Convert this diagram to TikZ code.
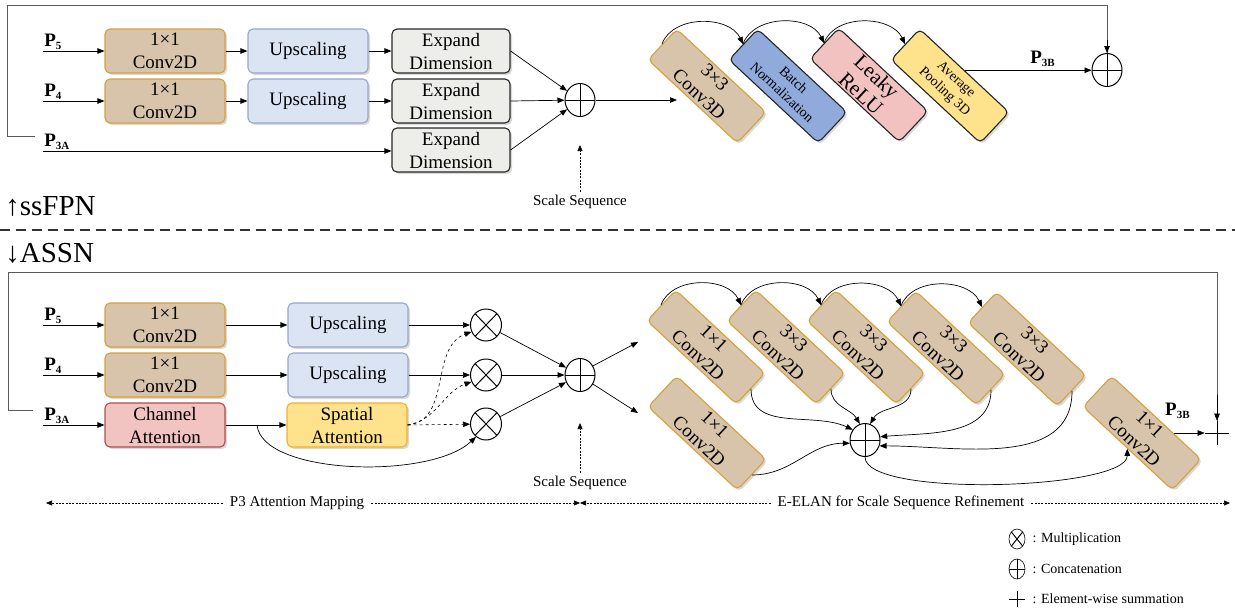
\documentclass[tikz,border=0pt]{standalone}
\usepackage{fontspec}
\setmainfont{Liberation Serif}
\usetikzlibrary{arrows.meta,shadows,calc,backgrounds,shapes.geometric}
\definecolor{convf}{RGB}{216,196,170}
\definecolor{convb}{RGB}{214,160,60}
\definecolor{upf}{RGB}{219,228,243}
\definecolor{upb}{RGB}{150,168,200}
\definecolor{expf}{RGB}{237,237,233}
\definecolor{bnf}{RGB}{143,170,219}
\definecolor{lrf}{RGB}{242,194,192}
\definecolor{apf}{RGB}{255,226,140}
\definecolor{caf}{RGB}{241,196,193}
\definecolor{cab}{RGB}{170,80,80}
\definecolor{saf}{RGB}{255,227,140}
\definecolor{sab}{RGB}{240,176,50}
\definecolor{framec}{RGB}{90,90,90}
\newcommand{\plab}[1]{\textbf{P}\raisebox{-0.35ex}{\fontsize{11}{11}\selectfont\textbf{#1}}}
\begin{document}
\begin{tikzpicture}[x=1pt,y=1pt,line width=0.7pt,
  >={Triangle[length=7pt,width=5.5pt]},
  blk/.style={rounded corners=5pt,line width=1.1pt,align=center,minimum width=120pt,minimum height=44pt,inner sep=1pt,font=\rmfamily\fontsize{19}{23}\selectfont,drop shadow={shadow xshift=2pt,shadow yshift=-2pt,opacity=0.3}},
  conv/.style={blk,draw=convb,fill=convf},
  ups/.style={blk,draw=upb,fill=upf},
  expd/.style={blk,draw=black!85,fill=expf,minimum width=118pt},
  rotbox/.style={rotate=-43,minimum width=122pt,minimum height=42pt,inner sep=0pt},
  bnbox/.style={blk,rotbox,draw=black!85,fill=bnf,font=\rmfamily\fontsize{14}{17}\selectfont},
  lrbox/.style={blk,rotbox,draw=black!85,fill=lrf,font=\rmfamily\fontsize{21}{23}\selectfont},
  apbox/.style={blk,rotbox,draw=black!85,fill=apf,font=\rmfamily\fontsize{14}{17}\selectfont},
  cabox/.style={blk,draw=cab,fill=caf},
  sabox/.style={blk,draw=sab,fill=saf},
  catn/.style={ellipse,draw,line width=1pt,minimum width=30pt,minimum height=33pt,inner sep=0pt,
    path picture={\draw[line width=1pt] (path picture bounding box.north) -- (path picture bounding box.south)
      (path picture bounding box.west) -- (path picture bounding box.east);}},
  muln/.style={ellipse,draw,line width=1pt,minimum width=31pt,minimum height=32pt,inner sep=0pt,
    path picture={\draw[line width=1pt]
      ($(path picture bounding box.center)!0.7071!(path picture bounding box.north east)$) --
      ($(path picture bounding box.center)!0.7071!(path picture bounding box.south west)$)
      ($(path picture bounding box.center)!0.7071!(path picture bounding box.north west)$) --
      ($(path picture bounding box.center)!0.7071!(path picture bounding box.south east)$);}},
  plusn/.style={minimum size=24pt,inner sep=0pt,
    path picture={\draw[line width=1pt] (path picture bounding box.north) -- (path picture bounding box.south)
      (path picture bounding box.west) -- (path picture bounding box.east);}},
  plab/.style={anchor=base west,font=\rmfamily\fontsize{19}{19}\selectfont,inner sep=0pt},
  frm/.style={draw=framec,line width=0.9pt},
  dsh/.style={dash pattern=on 2pt off 1.3pt,line width=0.6pt},
  smalltip/.style={-{Triangle[length=6pt,width=5pt]}},
  note/.style={font=\rmfamily\fontsize{15}{16}\selectfont},
  crv/.style={->,line width=0.7pt}
]
\useasboundingbox (0,0) rectangle (1235,-611);

% ================= ssFPN =================
\node[conv] (fc5) at (165,-51) {1×1\\Conv2D};
\node[ups]  (fu5) at (308,-51) {Upscaling};
\node[expd] (fe5) at (451,-51) {Expand\\Dimension};
\node[conv] (fc4) at (165,-101) {1×1\\Conv2D};
\node[ups]  (fu4) at (308,-101) {Upscaling};
\node[expd] (fe4) at (451,-101) {Expand\\Dimension};
\node[expd] (fe3) at (451,-150) {Expand\\Dimension};

\node[plab] (fl5) at (44,-46) {\plab{5}};
\node[plab] (fl4) at (44,-96) {\plab{4}};
\node[plab] (fl3) at (44,-146) {\plab{3A}};
\coordinate (fi5) at (43,-51);
\coordinate (fi4) at (43,-101);
\coordinate (fi3) at (43,-151);
\draw[->] (fi5) -- (fc5);
\draw[->] (fi4) -- (fc4);
\draw[->] (fi3) -- (fi3 -| fe3.west);
\draw[->] (fc5) -- (fu5);
\draw[->] (fc4) -- (fu4);
\draw[->] (fu5) -- (fe5);
\draw[->] (fu4) -- (fe4);

\node[catn] (catA) at (580,-100) {};
\draw[->] (fe5.east) -- (catA);
\draw[->] (fe4.east) -- (catA);
\draw[->] (fe3.east) -- (catA);

\node[note] (ssA) at (580,-202) {Scale Sequence};
\coordinate (ssAtip) at (580,-145);
\draw[dsh,smalltip] (ssA.north) -- (ssAtip);

\node[conv,rotbox] (c3d) at (707,-86) {3×3\\Conv3D};
\node[bnbox] (bn) at (788,-86) {Batch\\Normalization};
\node[lrbox] (lr) at (869,-85) {Leaky\\ReLU};
\node[apbox] (ap) at (950,-86) {Average\\Pooling 3D};
\coordinate (c3din) at (677,-100);
\draw[->] (catA.east) -- (c3din);
\draw[crv] (c3d.west) to[out=70,in=115] (bn.west);
\draw[crv] (bn.west) to[out=70,in=115] (lr.west);
\draw[crv] (lr.west) to[out=70,in=115] (ap.west);

\node[catn] (catB) at (1107,-70) {};
\draw[->] (ap.north) -- (ap.north -| catB.west);
\node[plab] (flb) at (1030,-63) {\plab{3B}};
\coordinate (frA) at (35,-136);
\draw[frm] (frA) -- (7,-136) -- (7,-5) -| (catB.north);
\draw[->] (catB.north |- 0,-40) -- (catB.north);

\node[anchor=west,font=\rmfamily\fontsize{29}{29}\selectfont,inner sep=0pt] (labA) at (5,-206) {↑ssFPN};
\draw[dash pattern=on 10pt off 6pt,line width=2.6pt,black!80] (0,-230) -- (1235,-230);
\node[anchor=west,font=\rmfamily\fontsize{29}{29}\selectfont,inner sep=0pt] (labB) at (5,-253) {↓ASSN};

% ================= ASSN =================
\node[conv] (ac5) at (165,-325) {1×1\\Conv2D};
\node[ups]  (au5) at (348,-325) {Upscaling};
\node[conv] (ac4) at (165,-375) {1×1\\Conv2D};
\node[ups]  (au4) at (348,-375) {Upscaling};
\node[cabox] (aca) at (165,-425) {Channel\\Attention};
\node[sabox] (asa) at (347,-425) {Spatial\\Attention};

\node[plab] (al5) at (44,-320) {\plab{5}};
\node[plab] (al4) at (44,-370) {\plab{4}};
\node[plab] (al3) at (44,-420) {\plab{3A}};
\coordinate (ai5) at (43,-325);
\coordinate (ai4) at (43,-375);
\coordinate (ai3) at (43,-425);
\draw[->] (ai5) -- (ac5);
\draw[->] (ai4) -- (ac4);
\draw[->] (ai3) -- (aca);
\draw[->] (ac5) -- (au5);
\draw[->] (ac4) -- (au4);
\draw[->] (aca) -- (asa);

\node[muln] (m1) at (486,-325) {};
\node[muln] (m2) at (486,-375) {};
\node[muln] (m3) at (486,-424) {};
\draw[->] (au5) -- (m1);
\draw[->] (au4) -- (m2);
\draw[dashed,->,line width=0.6pt] (asa.east) -- (m3);
\draw[dashed,->,line width=0.6pt] (asa.east) to[out=5,in=200] (m1.205);
\draw[dashed,->,line width=0.6pt] (asa.east) to[out=10,in=200] (m2.205);
\coordinate (split) at (257,-425);
\draw[->] (split) .. controls (262,-475) and (430,-480) .. (m3.232);

\node[catn] (catC) at (580,-375) {};
\draw[->] (m1) -- (catC);
\draw[->] (m2) -- (catC);
\draw[->] (m3) -- (catC);
\coordinate (o1) at (638,-342);
\coordinate (o2) at (638,-413);
\draw[->] (catC.35) -- (o1);
\draw[->] (catC.-35) -- (o2);

\node[note] (ssB) at (580,-483) {Scale Sequence};
\coordinate (ssBtip) at (580,-423);
\draw[dsh,smalltip] (ssB.north) -- (ssBtip);

% E-ELAN
\node[conv,rotbox] (e1) at (706,-347) {1×1\\Conv2D};
\node[conv,rotbox] (e2) at (786,-347) {3×3\\Conv2D};
\node[conv,rotbox] (e3) at (866,-347) {3×3\\Conv2D};
\node[conv,rotbox] (e4) at (946,-348) {3×3\\Conv2D};
\node[conv,rotbox] (e5) at (1027,-349) {3×3\\Conv2D};
\node[conv,rotbox] (e6) at (707,-433) {1×1\\Conv2D};
\node[conv,rotbox] (e7) at (1142,-433) {1×1\\Conv2D};
\node[catn] (cat3) at (865,-440) {};

\draw[crv] (e1.west) to[out=70,in=115] (e2.west);
\draw[crv] (e2.west) to[out=70,in=115] (e3.west);
\draw[crv] (e3.west) to[out=70,in=115] (e4.west);
\draw[crv] (e4.west) to[out=70,in=115] (e5.west);

\draw[crv] (e1.east) to[out=-90,in=155] (cat3.140);
\draw[crv] (e2.east) to[out=-90,in=120] (cat3.108);
\draw[crv] (e3.east) to[out=-90,in=60] (cat3.72);
\draw[crv] (e4.east) to[out=-90,in=5] (cat3.12);
\draw[crv] (e5.east) to[out=-90,in=0] (cat3.-22);
\draw[crv] (e6.east) to[out=0,in=180] (cat3.192);
\draw[crv] (cat3.south) to[out=-90,in=-90,looseness=0.4] (e7.south);

\node[plusn] (plus) at (1217,-433) {};
\begin{pgfonlayer}{background}
\draw[->] (e7.center) -- (plus.west);
\end{pgfonlayer}
\node[plab] (alb) at (1165,-415) {\plab{3B}};
\coordinate (frB) at (33,-410);
\draw[frm] (frB) -- (8,-410) -- (8,-272) -| (plus.north);
\draw[->] (plus.north |- 0,-395) -- (plus.north);

% bottom range arrows
\node[note,inner sep=7pt] (tp3) at (297,-503) {P3 Attention Mapping};
\node[note,inner sep=7pt] (tel) at (901,-503) {E-ELAN for Scale Sequence Refinement};
\coordinate (bl) at (46,-503);
\coordinate (bm) at (580,-503);
\coordinate (br) at (1230,-503);
\draw[dsh,smalltip] (tp3.west) -- (bl);
\draw[dsh,smalltip] (tp3.east) -- (bm);
\draw[dsh,smalltip] (tel.west) -- (bm);
\draw[dsh,smalltip] (tel.east) -- (br);

% legend
\node[muln,minimum width=16pt,minimum height=20pt,line width=0.6pt] (lg1) at (1017,-539) {};
\node[catn,minimum width=16pt,minimum height=20pt,line width=0.6pt] (lg2) at (1017,-569) {};
\node[plusn,minimum size=16pt] (lg3) at (1017,-599) {};
\node[note,anchor=west,font=\rmfamily\fontsize{14}{15}\selectfont] (lt1) at (1029,-539) {: Multiplication};
\node[note,anchor=west,font=\rmfamily\fontsize{14}{15}\selectfont] (lt2) at (1029,-569) {: Concatenation};
\node[note,anchor=west,font=\rmfamily\fontsize{14}{15}\selectfont] (lt3) at (1029,-599) {: Element-wise summation};
\end{tikzpicture}
\end{document}
